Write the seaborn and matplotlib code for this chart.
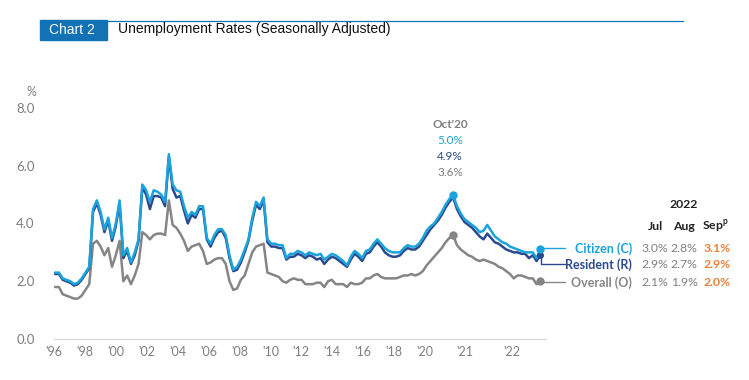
import numpy as np
import pandas as pd
import seaborn as sns
import matplotlib.pyplot as plt
from matplotlib.patches import Rectangle
from matplotlib.lines import Line2D

# quarterly 1996Q1-2019Q4, then monthly Jan 2020 - Sep 2022
citizen = [
    2.3, 2.3, 2.1, 2.05, 2.0, 1.9, 1.95, 2.1,
    2.3, 2.5, 4.5, 4.8, 4.4, 3.8, 4.2, 3.5,
    4.0, 4.8, 2.9, 3.15, 2.65, 3.0, 3.45, 5.35,
    5.15, 4.75, 5.15, 5.1, 5.0, 4.75, 6.4, 5.35,
    5.15, 5.1, 4.6, 4.2, 4.4, 4.3, 4.6, 4.6,
    3.5, 3.3, 3.6, 3.8, 3.8, 3.6, 2.9, 2.4,
    2.5, 2.75, 3.1, 3.45, 4.2, 4.75, 4.6, 4.9,
    3.45, 3.3, 3.3, 3.25, 3.25, 2.8, 2.95, 2.95,
    3.05, 3.0, 2.9, 3.0, 2.95, 2.9, 2.95, 2.75,
    2.85, 2.95, 2.9, 2.8, 2.7, 2.55, 2.85, 3.05,
    2.95, 2.8, 3.05, 3.1, 3.3, 3.45, 3.3, 3.15,
    3.05, 3.0, 3.0, 3.0, 3.15, 3.25, 3.2, 3.2,
    3.3, 3.5, 3.75, 3.9, 4.0, 4.2, 4.4, 4.65, 4.85, 5.0, 4.6, 4.35,
    4.15, 4.05, 3.95, 3.85, 3.7, 3.75, 3.95, 3.75, 3.55, 3.45, 3.35, 3.3,
    3.2, 3.15, 3.1, 3.05, 3.0, 3.0, 3.0, 2.8, 3.1,
]
resident = [
    2.25, 2.25, 2.05, 2.0, 1.95, 1.85, 1.9, 2.05,
    2.25, 2.45, 4.4, 4.7, 4.3, 3.7, 4.1, 3.4,
    3.9, 4.7, 2.8, 3.05, 2.6, 2.9, 3.4, 5.25,
    5.0, 4.5, 4.95, 4.95, 4.9, 4.6, 6.3, 5.2,
    4.9, 4.95, 4.45, 4.0, 4.3, 4.2, 4.5, 4.5,
    3.45, 3.2, 3.5, 3.7, 3.75, 3.5, 2.8, 2.35,
    2.4, 2.65, 3.0, 3.4, 4.1, 4.65, 4.5, 4.8,
    3.35, 3.2, 3.2, 3.15, 3.15, 2.75, 2.85, 2.85,
    2.95, 2.9, 2.8, 2.9, 2.85, 2.75, 2.8, 2.6,
    2.75, 2.85, 2.8, 2.7, 2.6, 2.5, 2.75, 2.95,
    2.85, 2.7, 2.95, 3.0, 3.2, 3.35, 3.2, 3.0,
    2.9, 2.85, 2.85, 2.9, 3.05, 3.15, 3.1, 3.1,
    3.2, 3.4, 3.6, 3.8, 3.95, 4.1, 4.3, 4.55, 4.75, 4.9, 4.5, 4.25,
    4.05, 3.95, 3.85, 3.7, 3.55, 3.45, 3.65, 3.5, 3.35, 3.3, 3.2, 3.1,
    3.05, 3.0, 3.0, 2.95, 2.95, 2.8, 2.9, 2.7, 2.9,
]
overall = [
    1.8, 1.8, 1.55, 1.5, 1.45, 1.4, 1.4, 1.5,
    1.7, 1.9, 3.3, 3.4, 3.2, 2.9, 3.15, 2.5,
    2.9, 3.4, 2.0, 2.2, 1.9, 2.2, 2.6, 3.7,
    3.6, 3.45, 3.6, 3.65, 3.65, 3.6, 4.8, 3.95,
    3.85, 3.65, 3.4, 3.05, 3.2, 3.25, 3.3, 3.05,
    2.6, 2.65, 2.75, 2.8, 2.8, 2.6, 2.0, 1.7,
    1.75, 2.05, 2.2, 2.6, 3.0, 3.2, 3.25, 3.3,
    2.3, 2.25, 2.2, 2.15, 2.0, 1.95, 2.05, 2.1,
    2.05, 2.05, 1.9, 1.9, 1.9, 1.95, 1.95, 1.8,
    2.0, 2.05, 1.9, 1.9, 1.9, 1.8, 1.95, 1.9,
    1.9, 1.95, 2.1, 2.1, 2.2, 2.25, 2.15, 2.1,
    2.1, 2.1, 2.1, 2.15, 2.2, 2.2, 2.25, 2.2,
    2.25, 2.35, 2.55, 2.7, 2.85, 3.0, 3.15, 3.35, 3.5, 3.6, 3.25, 3.1,
    3.0, 2.9, 2.85, 2.75, 2.7, 2.75, 2.7, 2.65, 2.6, 2.5, 2.45, 2.35,
    2.25, 2.1, 2.2, 2.2, 2.15, 2.1, 2.1, 1.9, 2.0,
]

year_labels = ["'96", "'98", "'00", "'02", "'04", "'06", "'08", "'10",
               "'12", "'14", "'16", "'18", "'20", "'21", "'22"]
series_names = ["Overall (O)", "Resident (R)", "Citizen (C)"]
latest_months = ["Jul", "Aug", "Sep"]
latest = {
    "Citizen (C)": ["3.0%", "2.8%", "3.1%"],
    "Resident (R)": ["2.9%", "2.7%", "2.9%"],
    "Overall (O)": ["2.1%", "1.9%", "2.0%"],
}
peak_label = "Oct'20"
peak_idx = 105

C_CIT = "#1aa3dd"
C_RES = "#2b4a8e"
C_OVR = "#858585"
C_TXT = "#7f7f7f"
C_ORANGE = "#e8823a"
C_HEAD = "#1272b6"

n = len(citizen)
df = pd.DataFrame({
    "idx": np.tile(np.arange(n), 3),
    "rate": overall + resident + citizen,
    "series": np.repeat(series_names, n),
})

sns.set_style("white")
plt.rcParams["font.family"] = ["Lato", "DejaVu Sans"]

fig = plt.figure(figsize=(7.49, 3.80), dpi=100)
ax = fig.add_axes([0.0721, 0.1079, 0.6569, 0.6079])

sns.lineplot(data=df, x="idx", y="rate", hue="series", hue_order=series_names,
             palette=[C_OVR, C_RES, C_CIT], linewidth=1.8, legend=False, ax=ax)

ax.set_xlim(-0.3, 129.5)
ax.set_ylim(0, 8)
ax.set_xlabel("")
ax.set_ylabel("")

# x axis: tick marks between every 2 years, labels under them
tick_pos = [-0.3 + 8.15 * k for k in range(16)]
label_pos = tick_pos[:13] + [108, 120.5]
ax.set_xticks(tick_pos, minor=True)
ax.set_xticks(label_pos)
ax.set_xticklabels(year_labels)
ax.tick_params(axis="x", which="minor", length=4, color="#d0d0d0", width=0.8)
ax.tick_params(axis="x", which="major", length=0, pad=5, labelsize=9, labelcolor=C_TXT)
ax.set_yticks([0, 2, 4, 6, 8])
ax.set_yticklabels(["0.0", "2.0", "4.0", "6.0", "8.0"])
ax.tick_params(axis="y", length=0, pad=14, labelsize=9.5, labelcolor=C_TXT)
for s in ["top", "right", "left"]:
    ax.spines[s].set_visible(False)
ax.spines["bottom"].set_color("#d6d6d6")
ax.spines["bottom"].set_linewidth(0.9)
ax.text(-0.035, 8.55, "%", transform=ax.get_yaxis_transform(), ha="right",
        va="center", fontsize=9, color=C_TXT)

# end markers and peak markers
last = n - 1
ax.plot(last, citizen[last], "o", ms=5, color=C_CIT, zorder=5)
ax.plot(last, resident[last], "o", ms=4, color=C_RES, zorder=4)
ax.plot(last, overall[last], "o", ms=5, color=C_OVR, zorder=5)
ax.plot(peak_idx, citizen[peak_idx], "o", ms=5, color=C_CIT, zorder=5)
ax.plot(peak_idx, overall[peak_idx], "o", ms=5, color=C_OVR, zorder=5)

ax.text(peak_idx - 0.8, 7.3, peak_label, ha="center", fontsize=8.5,
        fontweight="bold", color=C_TXT)
ax.text(peak_idx - 0.8, 6.75, f"{citizen[peak_idx]:.1f}%", ha="center",
        fontsize=8.5, color=C_CIT)
ax.text(peak_idx - 0.8, 6.2, f"{resident[peak_idx]:.1f}%", ha="center",
        fontsize=8.5, color=C_RES)
ax.text(peak_idx - 0.8, 5.65, f"{overall[peak_idx]:.1f}%", ha="center",
        fontsize=8.5, color=C_TXT)

# leader lines to labels on the right (figure pixel coords)
def fx(px):
    return px / 749

def fy(py):
    return (380 - py) / 380

fig.add_artist(Line2D([fx(541), fx(565)], [fy(248), fy(248)], color=C_CIT, lw=1))
fig.add_artist(Line2D([fx(541), fx(541), fx(565)], [fy(255), fy(264), fy(264)],
                      color=C_RES, lw=1))
fig.add_artist(Line2D([fx(541), fx(565)], [fy(282), fy(282)], color=C_OVR, lw=1))

rows = [("Citizen (C)", 249, C_CIT), ("Resident (R)", 265, C_RES), ("Overall (O)", 283, C_OVR)]
for name, py, col in rows:
    fig.text(fx(632), fy(py), name, ha="right", va="center", fontsize=9,
             fontweight="bold", color=col)
    vals = latest[name]
    fig.text(fx(655), fy(py), vals[0], ha="center", va="center", fontsize=8.8, color=C_TXT)
    fig.text(fx(684), fy(py), vals[1], ha="center", va="center", fontsize=8.8, color=C_TXT)
    fig.text(fx(717), fy(py), vals[2], ha="center", va="center", fontsize=8.8,
             fontweight="bold", color=C_ORANGE)

fig.text(fx(684), fy(205), "2022", ha="center", va="center", fontsize=8.8,
         fontweight="bold", color="#222222")
fig.text(fx(655), fy(227), latest_months[0], ha="center", va="center", fontsize=8.8,
         fontweight="bold", color="#222222")
fig.text(fx(684), fy(227), latest_months[1], ha="center", va="center", fontsize=8.8,
         fontweight="bold", color="#222222")
fig.text(fx(715), fy(227), latest_months[2] + "$^{\\mathregular{p}}$", ha="center",
         va="center", fontsize=8.8, fontweight="bold", color="#222222")

# header
fig.add_artist(Rectangle((fx(40), fy(40)), fx(67), 20 / 380, color=C_HEAD,
                         transform=fig.transFigure))
fig.add_artist(Line2D([fx(107), fx(683)], [fy(20.5), fy(20.5)], color=C_HEAD, lw=0.9))
fig.text(fx(49), fy(30), "Chart 2", ha="left", va="center", fontsize=10,
         color="white", family=["Liberation Sans", "DejaVu Sans"])
fig.text(fx(118), fy(29), "Unemployment Rates (Seasonally Adjusted)", ha="left",
         va="center", fontsize=10, color="#111111", family=["Liberation Sans", "DejaVu Sans"])

fig.savefig("out.png", dpi=100)
